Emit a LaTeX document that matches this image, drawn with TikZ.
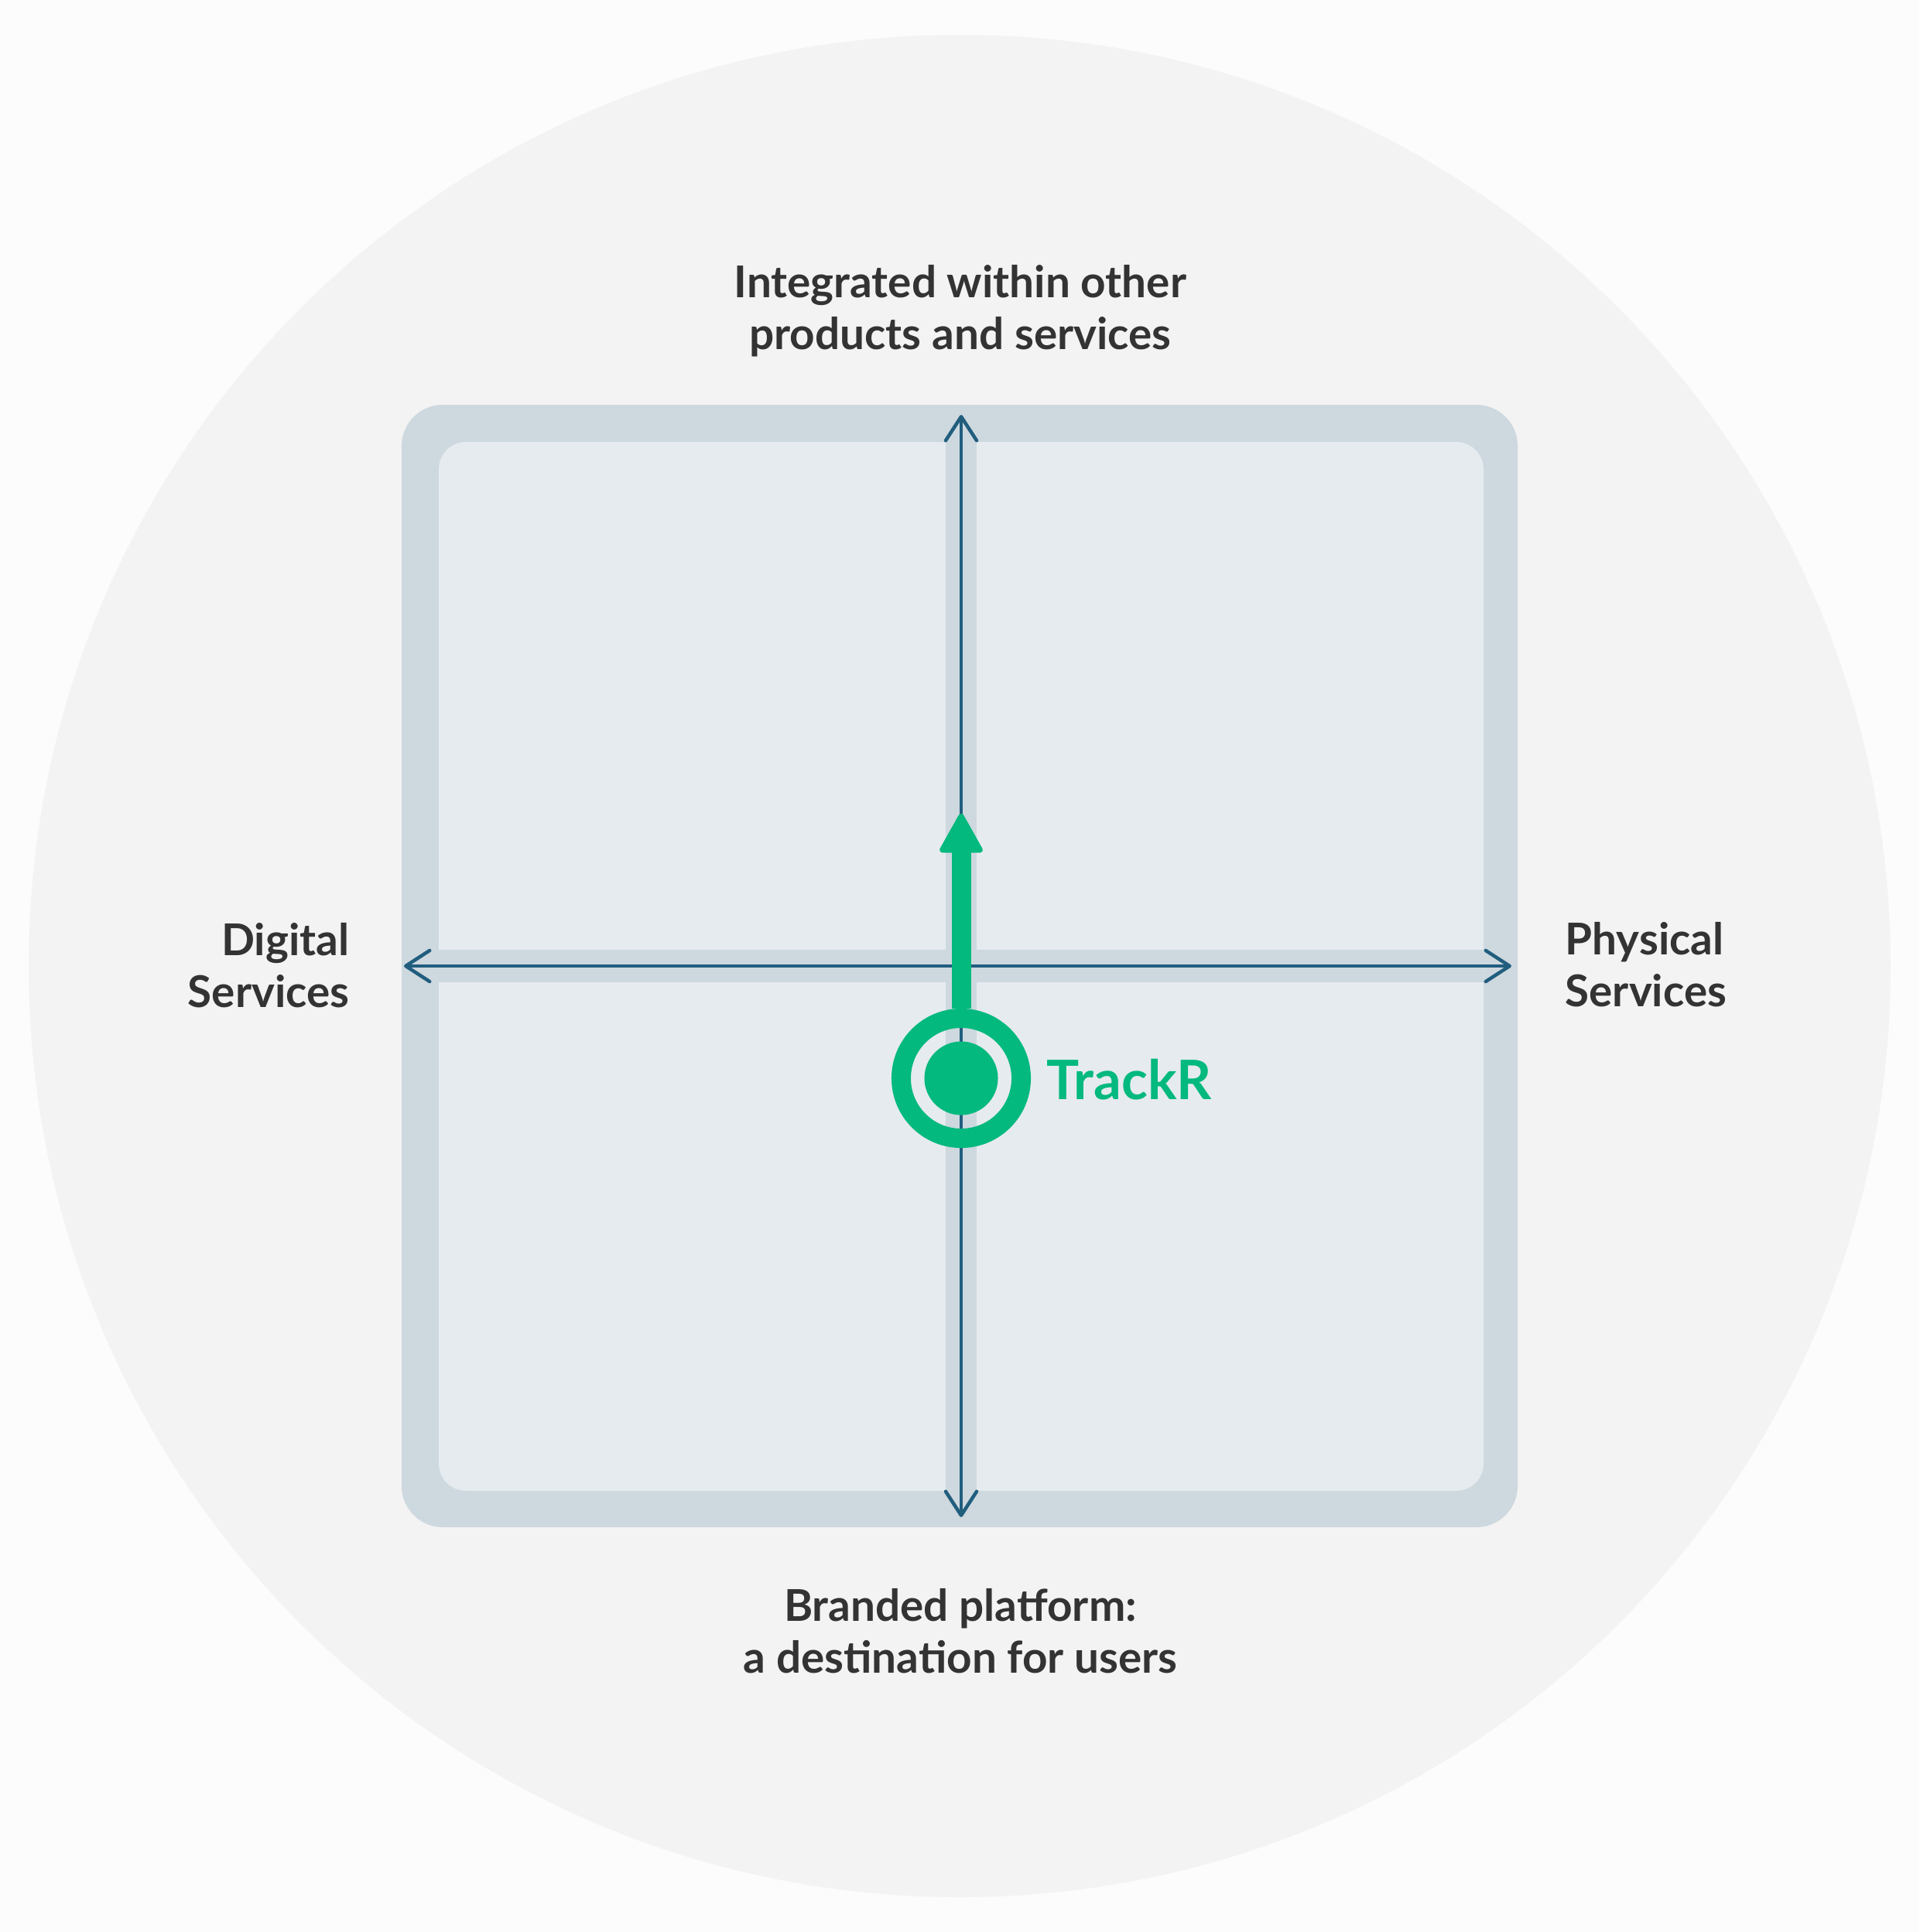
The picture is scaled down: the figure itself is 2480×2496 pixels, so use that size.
\documentclass[tikz,border=0pt]{standalone}
\usepackage{fontspec}
\setmainfont{Lato}
\usetikzlibrary{arrows.meta}
\definecolor{bgout}{HTML}{FCFCFC}
\definecolor{disc}{HTML}{F3F3F3}
\definecolor{frame}{HTML}{CDD8DF}
\definecolor{panel}{HTML}{E6EBEF}
\definecolor{axisc}{HTML}{215E7E}
\definecolor{greenc}{HTML}{03B97E}
\definecolor{txt}{HTML}{333333}
\tikzset{
  lbl/.style={inner sep=0pt, text=txt, font=\fontsize{16.1pt}{18.8pt}\selectfont\bfseries},
  axis/.style={draw=axisc, line width=1.28pt},
}
\begin{document}
\begin{tikzpicture}[x=0.01cm,y=-0.01cm]
\useasboundingbox (0,0) rectangle (2480,2496);
\fill[bgout] (0,0) rectangle (2480,2496);
\fill[disc] (1240,1248) circle[radius=1203];
% frame
\fill[frame, rounded corners=15.1pt] (519,523) rectangle (1961,1973);
\fill[panel, rounded corners=9.96pt] (567,571) rectangle (1917,1926);
\fill[frame] (567,1227) rectangle (1917,1269);
\fill[frame] (1222,571) rectangle (1262,1926);
% axes
\coordinate (hl) at (522,1248);
\coordinate (hr) at (1953,1248);
\coordinate (vt) at (1242,536);
\coordinate (vb) at (1242,1960);
\draw[axis, {Straight Barb[length=8.8pt,width=11.4pt,round]}-{Straight Barb[length=8.8pt,width=11.4pt,round]}] (hl) -- (hr);
\draw[axis, {Straight Barb[length=8.8pt,width=11.4pt,round]}-{Straight Barb[length=8.8pt,width=11.4pt,round]}] (vt) -- (vb);
% TrackR marker
\node[circle, draw=greenc, line width=7.11pt, minimum size=1.55cm, inner sep=0pt] (ring) at (1242,1393) {};
\node[circle, fill=greenc, minimum size=0.95cm, inner sep=0pt] (dot) at (1242,1393) {};
\coordinate (gtip) at (1242,1051);
\draw[greenc, line width=7.11pt, -{Triangle[length=15.5pt,width=16.8pt,round,line width=2pt]}] (ring.north) -- (gtip);
\node[inner sep=0pt, anchor=base west, text=greenc, font=\fontsize{20pt}{23pt}\selectfont\bfseries] (trackr) at (1352,1420) {TrackR};
% labels
\node[lbl, anchor=base, align=center] (top) at (1241,451) {Integrated within other\\products and services};
\node[lbl, anchor=base, align=center] (bottom) at (1241,2161) {Branded platform:\\a destination for users};
\node[lbl, anchor=base east, align=right] (left) at (452,1301) {Digital\\Services};
\node[lbl, anchor=base west, align=left] (right) at (2022,1300) {Physical\\Services};
\end{tikzpicture}
\end{document}
